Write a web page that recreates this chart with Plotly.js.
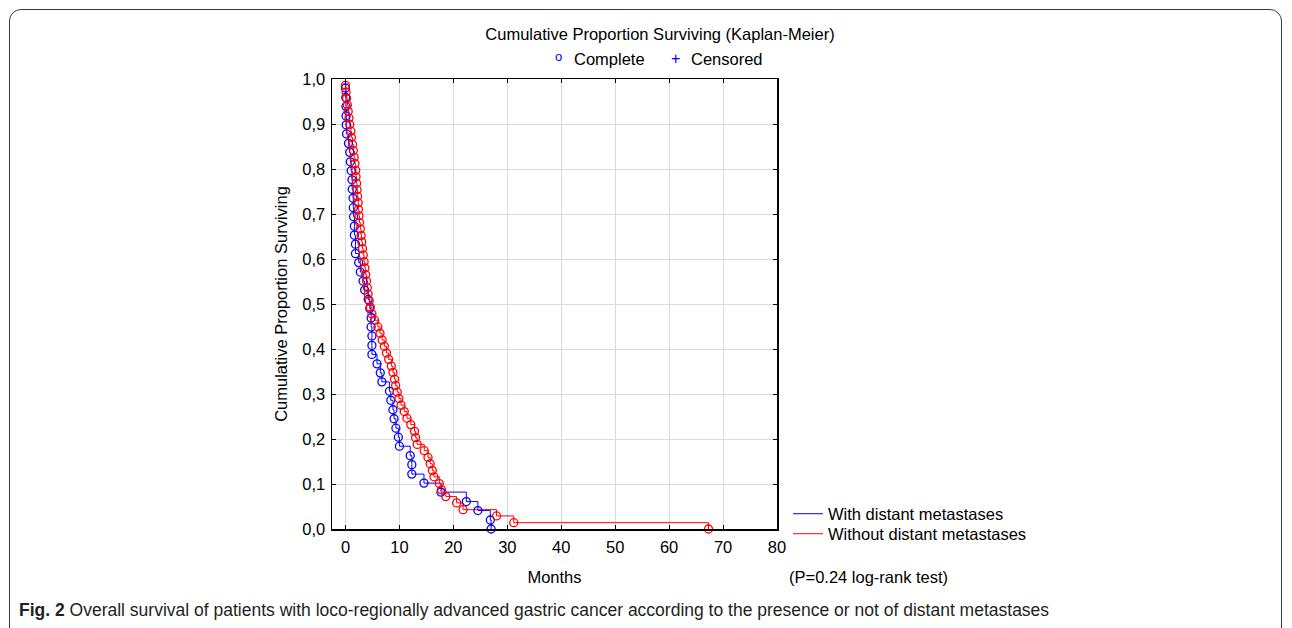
<!DOCTYPE html>
<html>
<head>
<meta charset="utf-8">
<script src="https://cdn.plot.ly/plotly-3.0.1.min.js"></script>
<style>
  html, body { margin: 0; padding: 0; background: #ffffff; }
  #wrap { position: relative; width: 1292px; height: 628px; overflow: hidden; }
  #frame { position: absolute; left: 9px; top: 9px; width: 1273px; height: 660px;
           border: 1px solid #3a3a3a; border-radius: 12px; box-sizing: border-box; pointer-events: none; }
  #chart { position: absolute; left: 0; top: 0; width: 1292px; height: 628px; }
</style>
</head>
<body>
<div id="wrap">
  <div id="chart"></div>
  <div id="frame"></div>
</div>
<script>
// ---- Data (months, cumulative proportion surviving) ----
const withMetTimes = [0.0, 0.05, 0.1, 0.1, 0.15, 0.2, 0.55, 0.8, 0.9, 1.05,
  1.2, 1.25, 1.4, 1.45, 1.5, 1.65, 1.65, 1.85, 1.85, 2.45,
  2.75, 3.25, 3.55, 4.2, 4.5, 4.75, 4.75, 4.9, 4.9, 4.9,
  5.85, 6.45, 6.75, 8.15, 8.4, 8.8, 9.0, 9.35, 9.8, 10.0,
  12.0, 12.3, 12.3, 14.55, 17.7, 22.4, 24.55, 26.85, 27.0];
const withMetSurv = [0.980, 0.959, 0.939, 0.918, 0.898, 0.878, 0.857, 0.837, 0.816, 0.796,
  0.776, 0.755, 0.735, 0.714, 0.694, 0.673, 0.653, 0.633, 0.612, 0.592,
  0.571, 0.551, 0.531, 0.510, 0.490, 0.469, 0.449, 0.429, 0.408, 0.388,
  0.367, 0.347, 0.327, 0.306, 0.286, 0.265, 0.245, 0.224, 0.204, 0.184,
  0.163, 0.143, 0.122, 0.102, 0.082, 0.061, 0.041, 0.020, 0.000];

const withoutMetTimes = [0.0, 0.1, 0.2, 0.35, 0.5, 0.65, 0.8, 1.0, 1.1, 1.3,
  1.45, 1.6, 1.75, 1.9, 1.95, 2.05, 2.15, 2.25, 2.35, 2.4,
  2.5, 2.6, 2.75, 2.9, 3.0, 3.15, 3.3, 3.45, 3.6, 3.75,
  3.9, 4.05, 4.2, 4.4, 4.6, 4.9, 5.4, 6.0, 6.4, 6.8,
  7.2, 7.6, 8.0, 8.5, 8.8, 9.1, 9.3, 9.6, 9.9, 10.3,
  10.9, 11.4, 12.1, 12.8, 13.0, 13.3, 14.6, 15.3, 15.7, 16.1,
  16.4, 17.4, 17.8, 18.6, 20.6, 21.8, 28.0, 31.2, 67.3];
const withoutMetSurv = [0.986, 0.971, 0.957, 0.942, 0.928, 0.913, 0.899, 0.884, 0.870, 0.855,
  0.841, 0.826, 0.812, 0.797, 0.783, 0.768, 0.754, 0.739, 0.725, 0.710,
  0.696, 0.681, 0.667, 0.652, 0.638, 0.623, 0.609, 0.594, 0.580, 0.565,
  0.551, 0.536, 0.522, 0.507, 0.493, 0.478, 0.464, 0.449, 0.435, 0.420,
  0.406, 0.391, 0.377, 0.362, 0.348, 0.333, 0.319, 0.304, 0.290, 0.275,
  0.261, 0.246, 0.232, 0.217, 0.203, 0.188, 0.174, 0.159, 0.145, 0.130,
  0.116, 0.101, 0.087, 0.072, 0.058, 0.043, 0.029, 0.014, 0.000];

const seriesNames = ["With distant metastases", "Without distant metastases"];
const xTickVals = [0, 10, 20, 30, 40, 50, 60, 70, 80];
const yTickVals = [0, 0.1, 0.2, 0.3, 0.4, 0.5, 0.6, 0.7, 0.8, 0.9, 1.0];
const yTickText = ["0,0", "0,1", "0,2", "0,3", "0,4", "0,5", "0,6", "0,7", "0,8", "0,9", "1,0"];

// ---- Layout geometry ----
const M = { l: 332, r: 1292 - 777, t: 79, b: 628 - 529 };
const PW = 1292 - M.l - M.r, PH = 628 - M.t - M.b;
const px = x => (x - M.l) / PW;
const py = y => (628 - M.b - y) / PH;

const FONT = "Liberation Sans, Arial, Helvetica, sans-serif";
const FS = 16.5;
const BLUE = "#0000ff", RED = "#ff0000";

function stepTrace(times, surv, color, name, legendId) {
  return {
    x: [0].concat(times), y: [1].concat(surv),
    type: "scatter", mode: "lines", line: { shape: "hv", color: color, width: 1 },
    name: name, showlegend: true, legend: legendId, cliponaxis: false, hoverinfo: "skip"
  };
}
function markTrace(times, surv, color, name) {
  return {
    x: times, y: surv, type: "scatter", mode: "markers",
    marker: { symbol: "circle-open", size: 8, color: color, line: { width: 1.3, color: color } },
    name: name, showlegend: false, cliponaxis: false
  };
}

const traces = [
  stepTrace(withMetTimes, withMetSurv, BLUE, seriesNames[0], "legend"),
  stepTrace(withoutMetTimes, withoutMetSurv, RED, seriesNames[1], "legend2"),
  markTrace(withMetTimes, withMetSurv, BLUE, seriesNames[0]),
  markTrace(withoutMetTimes, withoutMetSurv, RED, seriesNames[1])
];

const axisCommon = {
  showline: true, linecolor: "#000", linewidth: 1.5, mirror: "ticks",
  ticks: "inside", ticklen: 4, tickcolor: "#000", tickwidth: 1,
  showgrid: true, gridcolor: "#dadada", gridwidth: 1, zeroline: false,
  tickfont: { family: FONT, size: FS, color: "#000" }
};

const legendCommon = {
  x: px(788), xanchor: "left", yanchor: "middle",
  font: { family: FONT, size: FS, color: "#000" }, bgcolor: "rgba(0,0,0,0)",
  itemwidth: 30, borderwidth: 0
};

const layout = {
  width: 1292, height: 628,
  margin: M,
  paper_bgcolor: "#ffffff", plot_bgcolor: "#ffffff",
  font: { family: FONT, color: "#000" },
  title: { text: "Cumulative Proportion Surviving (Kaplan-Meier)", xref: "container", yref: "container",
           x: 660 / 1292, xanchor: "center", y: 1 - 34 / 628, yanchor: "middle",
           font: { family: FONT, size: FS, color: "#000" } },
  xaxis: Object.assign({}, axisCommon, {
    range: [-2.5, 80], tickvals: xTickVals, ticklabelstandoff: 3,
    title: { text: "Months", font: { family: FONT, size: FS, color: "#000" }, standoff: 16 }
  }),
  yaxis: Object.assign({}, axisCommon, {
    range: [0, 1], tickvals: yTickVals, ticktext: yTickText, ticklabelstandoff: 2,
    title: { text: "Cumulative Proportion Surviving", font: { family: FONT, size: FS, color: "#000" }, standoff: 10 }
  }),
  showlegend: true,
  legend: Object.assign({}, legendCommon, { y: py(514) }),
  legend2: Object.assign({}, legendCommon, { y: py(534) }),
  annotations: [
    { text: "o", xref: "paper", yref: "paper", x: px(558), y: py(57), xanchor: "center", yanchor: "middle",
      showarrow: false, font: { family: FONT, size: 13, color: BLUE } },
    { text: "Complete", xref: "paper", yref: "paper", x: px(572), y: py(59), xanchor: "left", yanchor: "middle",
      showarrow: false, font: { family: FONT, size: FS, color: "#000" } },
    { text: "+", xref: "paper", yref: "paper", x: px(675), y: py(59), xanchor: "center", yanchor: "middle",
      showarrow: false, font: { family: FONT, size: 16, color: BLUE } },
    { text: "Censored", xref: "paper", yref: "paper", x: px(689), y: py(59), xanchor: "left", yanchor: "middle",
      showarrow: false, font: { family: FONT, size: FS, color: "#000" } },
    { text: "(P=0.24 log-rank test)", xref: "paper", yref: "paper", x: px(787), y: py(577), xanchor: "left", yanchor: "middle",
      showarrow: false, font: { family: FONT, size: FS, color: "#000" } },
    { text: "<b>Fig. 2</b> Overall survival of patients with loco-regionally advanced gastric cancer according to the presence or not of distant metastases",
      xref: "paper", yref: "paper", x: px(17), y: py(610), xanchor: "left", yanchor: "middle",
      showarrow: false, font: { family: FONT, size: 17.5, color: "#231f20" } }
  ]
};

Plotly.newPlot("chart", traces, layout, { staticPlot: true, displayModeBar: false });
</script>
</body>
</html>
